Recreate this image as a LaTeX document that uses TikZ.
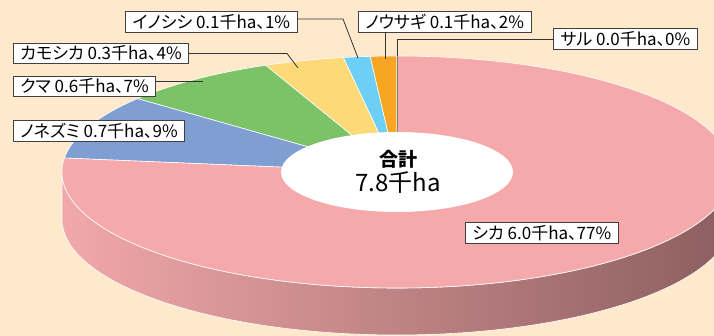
\documentclass[tikz,border=0pt]{standalone}
\usepackage{fontspec}
\newfontfamily\jp[RawFeature=+palt]{Noto Sans CJK JP}
\definecolor{bg}{HTML}{FEE9CC}
\definecolor{shikaC}{HTML}{F6A9AB}
\definecolor{nezuC}{HTML}{7F9FD3}
\definecolor{kumaC}{HTML}{7CC267}
\definecolor{kamoC}{HTML}{FDD978}
\definecolor{inoC}{HTML}{6DCFF6}
\definecolor{usagiC}{HTML}{F6A623}
\definecolor{sideL}{HTML}{F1A8AA}
\definecolor{sideR}{HTML}{8C5E5F}
\tikzset{
  lbl/.style={draw=black!75, fill=white, line width=0.8pt, inner xsep=7pt, inner ysep=2.5pt,
    font=\jp\fontsize{17}{20}\selectfont},
  lead/.style={draw=black!80, line width=0.8pt}
}

\begin{document}
\begin{tikzpicture}[x=1pt,y=1pt]
  \useasboundingbox (0,0) rectangle (714,336);
  \fill[bg] (0,0) rectangle (714,336);
  \clip (0,0) rectangle (714,336);

  \coordinate (O) at (397,164);

  \path[left color=sideL, right color=sideR, draw=white, line width=0.6pt]
    (O) ++(180:335pt and 116pt) -- ++(0,-47)
    arc[start angle=180, end angle=360, x radius=335, y radius=116] -- ++(0,47)
    arc[start angle=0, end angle=-180, x radius=335, y radius=116] -- cycle;

  \foreach \a/\b/\c in {90/94.62/usagiC, 94.62/99.23/inoC, 99.23/113.08/kamoC,
                        113.08/140.77/kumaC, 140.77/173.08/nezuC, 173.08/450/shikaC}{
    \filldraw[fill=\c, draw=white, line width=0.6pt] (O) -- ++(\a:335pt and 116pt)
      arc[start angle=\a, end angle=\b, x radius=335, y radius=116] -- cycle;
  }

  \coordinate (p-saru) at (397,280);
  \coordinate (p-usagi) at (385,277);
  \coordinate (p-ino) at (358,278);
  \coordinate (p-kamo) at (298,268);
  \coordinate (p-kuma) at (203,254.5);

  \draw[gray, line width=0.6pt] (O) -- (p-saru);
  \fill[white] (O) ellipse[x radius=116, y radius=40];

  \node[font=\jp\bfseries\fontsize{19}{22}\selectfont] (goukei) at (398,177) {合計};
  \node[font=\jp\fontsize{24}{28}\selectfont] (sougaku) at (398,153) {7.8千ha};

  \node[lbl, anchor=west] (inoshishi) at (125,314) {イノシシ 0.1千ha、1\%};
  \node[lbl, anchor=west] (usagi) at (358,314.5) {ノウサギ 0.1千ha、2\%};
  \node[lbl, anchor=west] (saru) at (553,297) {サル 0.0千ha、0\%};
  \node[lbl, anchor=west] (kamoshika) at (13,282.5) {カモシカ 0.3千ha、4\%};
  \node[lbl, anchor=west] (kuma) at (13,249.5) {クマ 0.6千ha、7\%};
  \node[lbl, anchor=west] (nezumi) at (13,205) {ノネズミ 0.7千ha、9\%};
  \node[lbl, anchor=west] (shika) at (465,103) {シカ 6.0千ha、77\%};

  \draw[lead] ([yshift=3pt]inoshishi.east) -- (343,317) -- (p-ino);
  \draw[lead] (kamoshika.east) -- (287,282.5) -- (p-kamo);
  \draw[lead] ([yshift=5pt]kuma.east) -- (p-kuma);
  \draw[lead] (usagi.south -| p-usagi) -- (p-usagi);
  \draw[lead] (saru.west) -| (p-saru);
\end{tikzpicture}
\end{document}
